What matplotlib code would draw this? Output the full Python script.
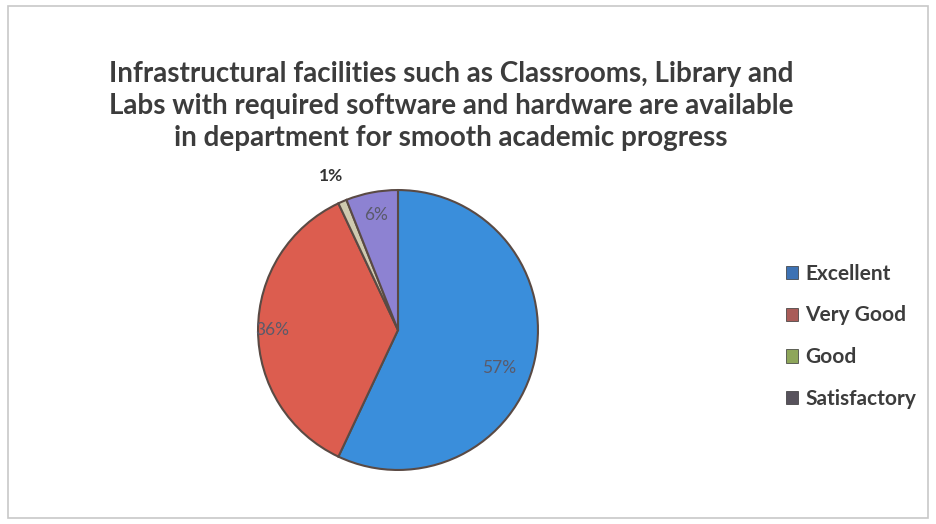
#!/usr/bin/python3
# -*- coding: utf-8 -*-

import numpy as np
import matplotlib
matplotlib.use("Agg")
import matplotlib.pyplot as plt
from matplotlib.patches import Patch, Rectangle

categories = ["Excellent", "Very Good", "Good", "Satisfactory"]
values = [57, 36, 1, 6]
pie_colors = ["#3a8edb", "#dc5d4f", "#cfcab0", "#8d82d2"]
legend_colors = ["#3d72b4", "#a95c58", "#8ea65a", "#57525c"]
title = ("Infrastructural facilities such as Classrooms, Library and\n"
         "Labs with required software and hardware are available\n"
         "in department for smooth academic progress")


def save_img():
    fig = plt.figure(figsize=(9.36, 5.24), dpi=100)
    fig.patch.set_facecolor("white")

    # outer chart border
    fig.patches.append(Rectangle((8 / 936, 6 / 524), 920 / 936, 512 / 524,
                                 transform=fig.transFigure, fill=False,
                                 edgecolor="#c8c8c8", linewidth=1.2))

    ax = fig.add_axes([253 / 936, 49 / 524, 290 / 936, 290 / 524])
    wedges, texts, autotexts = ax.pie(
        values, colors=pie_colors, startangle=90, counterclock=False,
        autopct="%d%%", pctdistance=0.8,
        wedgeprops=dict(edgecolor="#5a4a44", linewidth=1.5))
    ax.set_xlim(-1.036, 1.036)
    ax.set_ylim(-1.036, 1.036)
    ax.set_aspect("equal")

    # move the percent labels where the original has them
    dist = [0.72, 0.9, 1.2, 0.84]
    for w, t, d in zip(wedges, autotexts, dist):
        ang = np.deg2rad((w.theta1 + w.theta2) / 2)
        t.set_position((d * np.cos(ang), d * np.sin(ang)))
        t.set_fontfamily("Lato")
        t.set_fontsize(12.5)
        t.set_color("#5a5a6a")
    autotexts[0].set_position((0.72, -0.27))
    autotexts[2].set_color("#333333")
    autotexts[2].set_fontweight("bold")

    fig.text(0.482, 0.797, title, ha="center", va="center",
             fontsize=20, fontweight="bold", family="Lato",
             color="#3c3c3c", linespacing=1.28)

    handles = [Patch(facecolor=c, edgecolor="#333333", linewidth=0.5)
               for c in legend_colors]
    leg = fig.legend(handles, categories, loc="center left",
                     bbox_to_anchor=(767 / 936, 0.358), frameon=False,
                     prop=dict(family="Lato", weight="bold", size=15),
                     handlelength=0.6, handleheight=0.6, handletextpad=0.35,
                     labelspacing=1.05)
    for t in leg.get_texts():
        t.set_color("#3c3c3c")

    fig.savefig("out.png", dpi=100)


def main():
    save_img()


if __name__ == '__main__':
    main()
